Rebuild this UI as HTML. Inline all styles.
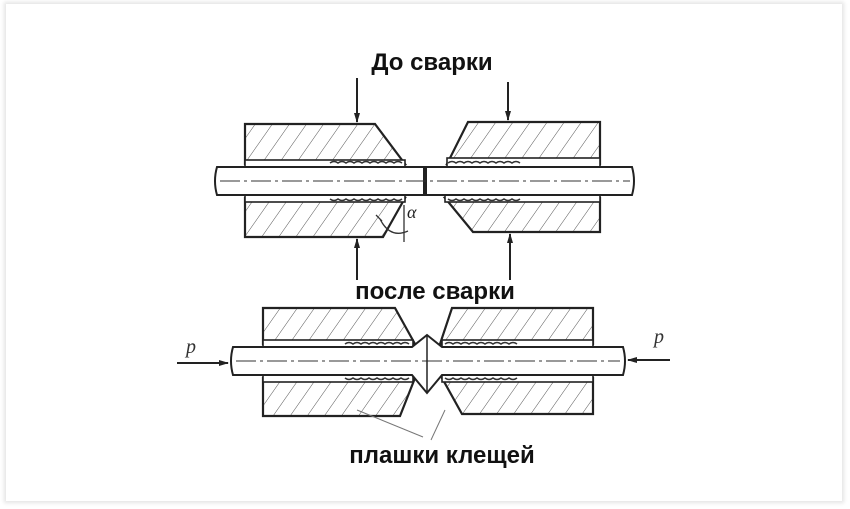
<!DOCTYPE html>
<html><head><meta charset="utf-8"><style>
html,body{margin:0;padding:0;background:#fff;}
body{width:850px;height:509px;position:relative;overflow:hidden;}
.card{position:absolute;left:6px;top:4px;width:836px;height:497px;background:#fff;box-shadow:0 0 4px 2px #e4e4e4;}
svg{position:absolute;left:0;top:0;}
text{font-family:"Liberation Sans",sans-serif;font-weight:bold;}
text.it{font-family:"Liberation Serif",serif;font-weight:normal;font-style:italic;}
</style></head><body>
<div class="card"></div>
<svg width="850" height="509" viewBox="0 0 850 509">
<defs>
<pattern id="h" patternUnits="userSpaceOnUse" width="14" height="14" patternTransform="rotate(35)">
<line x1="0" y1="0" x2="0" y2="14" stroke="#555" stroke-width="1"/>
</pattern>
<marker id="a" markerWidth="10" markerHeight="10" refX="9" refY="5" orient="auto" markerUnits="userSpaceOnUse">
<path d="M0,2 L10,5 L0,8 z" fill="#222"/></marker>
</defs>
<g stroke="#222" stroke-width="2.2" fill="url(#h)">
<polygon points="245,124 375,124 405,164 245,164"/>
<polygon points="245,198 405,198 383,237 245,237"/>
<polygon points="468,122 600,122 600,164 447,164"/>
<polygon points="445,198 600,198 600,232 473,232"/>
<polygon points="263,308 395,308 415,344 263,344"/>
<polygon points="263,378 415,378 400,416 263,416"/>
<polygon points="452,308 593,308 593,344 440,344"/>
<polygon points="442,378 593,378 593,414 462,414"/>
</g>
<g stroke="#222" stroke-width="1.6" fill="#fff">
<rect x="245" y="160" width="160" height="7"/>
<rect x="245" y="195" width="160" height="7"/>
<rect x="447" y="158" width="153" height="9"/>
<rect x="445" y="195" width="155" height="7"/>
<rect x="263" y="340" width="150" height="7"/>
<rect x="263" y="375" width="150" height="7"/>
<rect x="442" y="340" width="151" height="7"/>
<rect x="442" y="375" width="151" height="7"/>
</g>
<g stroke="#333" stroke-width="1.5" fill="none">
<path d="M330,163 q4,-3 8,0 q4,-3 8,0 q4,-3 8,0 q4,-3 8,0 q4,-3 8,0 q4,-3 8,0 q4,-3 8,0 q4,-3 8,0 q4,-3 8,0"/>
<path d="M330,199 q4,3 8,0 q4,3 8,0 q4,3 8,0 q4,3 8,0 q4,3 8,0 q4,3 8,0 q4,3 8,0 q4,3 8,0 q4,3 8,0"/>
<path d="M448,163 q4,-3 8,0 q4,-3 8,0 q4,-3 8,0 q4,-3 8,0 q4,-3 8,0 q4,-3 8,0 q4,-3 8,0 q4,-3 8,0 q4,-3 8,0"/>
<path d="M448,199 q4,3 8,0 q4,3 8,0 q4,3 8,0 q4,3 8,0 q4,3 8,0 q4,3 8,0 q4,3 8,0 q4,3 8,0 q4,3 8,0"/>
<path d="M345,344 q4,-3 8,0 q4,-3 8,0 q4,-3 8,0 q4,-3 8,0 q4,-3 8,0 q4,-3 8,0 q4,-3 8,0 q4,-3 8,0"/>
<path d="M345,378 q4,3 8,0 q4,3 8,0 q4,3 8,0 q4,3 8,0 q4,3 8,0 q4,3 8,0 q4,3 8,0 q4,3 8,0"/>
<path d="M445,344 q4,-3 8,0 q4,-3 8,0 q4,-3 8,0 q4,-3 8,0 q4,-3 8,0 q4,-3 8,0 q4,-3 8,0 q4,-3 8,0 q4,-3 8,0"/>
<path d="M445,378 q4,3 8,0 q4,3 8,0 q4,3 8,0 q4,3 8,0 q4,3 8,0 q4,3 8,0 q4,3 8,0 q4,3 8,0 q4,3 8,0"/>
</g>
<g stroke="#222" stroke-width="2" fill="#fff">
<path d="M217,167 L424,167 L424,195 L217,195 q-4,-14 0,-28 z"/>
<path d="M426,167 L433,167 L433,195 L426,195 z"/>
<path d="M426,167 L632,167 q4,14 0,28 L426,195 z"/>
<path d="M233,347 L412,347 L427,335 L442,347 L623,347 q4,14 0,28 L442,375 L427,393 L412,375 L233,375 q-4,-14 0,-28 z"/>
</g>
<g stroke="#333" stroke-width="1" stroke-dasharray="20,4,3,4" fill="none">
<line x1="220" y1="181" x2="630" y2="181"/>
<line x1="236" y1="361" x2="620" y2="361"/>
</g>
<line x1="427" y1="336" x2="427" y2="392" stroke="#222" stroke-width="1.5"/>
<g stroke="#222" stroke-width="2" fill="none" marker-end="url(#a)">
<line x1="357" y1="78" x2="357" y2="122"/>
<line x1="508" y1="82" x2="508" y2="120"/>
<line x1="357" y1="280" x2="357" y2="239"/>
<line x1="510" y1="280" x2="510" y2="234"/>
<line x1="177" y1="363" x2="228" y2="363"/>
<line x1="670" y1="360" x2="628" y2="360"/>
</g>
<g stroke="#333" stroke-width="1.3" fill="none">
<line x1="404" y1="205" x2="404" y2="242"/>
<path d="M376,215 l6,6 M380,219 q10,20 28,12"/>
</g>
<text class="it" x="407" y="218" font-size="18" fill="#222">α</text>
<text class="it" x="186" y="353" font-size="20" fill="#333">p</text>
<text class="it" x="654" y="343" font-size="20" fill="#333">p</text>
<g stroke="#777" stroke-width="1"><line x1="357" y1="410" x2="423" y2="437"/><line x1="445" y1="410" x2="431" y2="440"/></g>
<text x="432" y="70" font-size="24" text-anchor="middle" fill="#111">До сварки</text>
<text x="435" y="299" font-size="24" text-anchor="middle" fill="#111">после сварки</text>
<text x="442" y="463" font-size="24" text-anchor="middle" fill="#111">плашки клещей</text>
</svg>
</body></html>
